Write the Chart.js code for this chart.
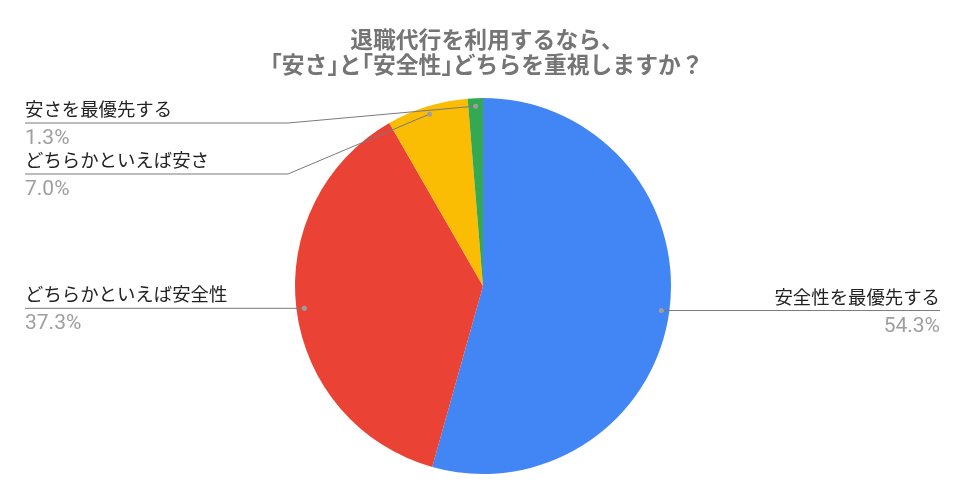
<!DOCTYPE html>
<html>
<head>
<meta charset="utf-8">
<script src="https://cdn.jsdelivr.net/npm/chart.js@4/dist/chart.umd.min.js"></script>
<style>
  body { margin: 0; background: #fff; }
  #wrap { width: 966px; height: 501px; position: relative; }
  #title {
    position: absolute; left: 4px; top: 26px; width: 966px;
    text-align: center; color: #757575;
    font: bold 22.8px/25px "Noto Sans CJK JP", "Noto Sans", sans-serif;
    pointer-events: none;
  }
  #title .l2 { font-feature-settings: "halt"; }
</style>
</head>
<body>
<div id="wrap">
  <canvas id="myChart"></canvas>
  <div id="title"><div class="l1"></div><div class="l2"></div></div>
</div>
<script>
const titleLines = ['退職代行を利用するなら、', '「安さ」と「安全性」どちらを重視しますか？'];
const labels = ['安全性を最優先する', 'どちらかといえば安全性', 'どちらかといえば安さ', '安さを最優先する'];
const values = [54.3, 37.3, 7.0, 1.3];
const colors = ['#4285F4', '#EA4335', '#FBBC04', '#34A853'];

const jpFont = '"Noto Sans CJK JP", "Noto Sans", sans-serif';

document.querySelector('#title .l1').textContent = titleLines[0];
document.querySelector('#title .l2').textContent = titleLines[1];

// where each label sits: side and the y of its underline (null = follow the dot)
const labelPlaces = [
    { side: 'right', lineY: null },
    { side: 'left', lineY: null },
    { side: 'left', lineY: 174 },
    { side: 'left', lineY: 123 }
];

const pieLabels = {
    id: 'pieLabels',
    afterDraw(chart) {
        const ctx = chart.ctx;
        ctx.save();
        const arcs = chart.getDatasetMeta(0).data;
        arcs.forEach((arc, i) => {
            const mid = (arc.startAngle + arc.endAngle) / 2;
            const r = arc.outerRadius - 8;
            const dx = arc.x + Math.cos(mid) * r;
            const dy = arc.y + Math.sin(mid) * r;
            const place = labelPlaces[i];
            const ly = place.lineY === null ? dy : place.lineY;
            const pct = values[i].toFixed(1) + '%';

            ctx.strokeStyle = '#7a7a7a';
            ctx.lineWidth = 1;
            ctx.beginPath();
            if (place.side === 'right') {
                ctx.moveTo(dx, ly);
                ctx.lineTo(940, ly);
            } else {
                ctx.moveTo(25, ly);
                ctx.lineTo(288, ly);
                ctx.lineTo(dx, dy);
            }
            ctx.stroke();

            ctx.fillStyle = '#9e9e9e';
            ctx.beginPath();
            ctx.arc(dx, dy, 2.5, 0, Math.PI * 2);
            ctx.fill();

            const tx = place.side === 'right' ? 940 : 25;
            ctx.textAlign = place.side === 'right' ? 'right' : 'left';
            ctx.textBaseline = 'alphabetic';
            ctx.fillStyle = '#222222';
            ctx.font = '18.4px ' + jpFont;
            ctx.fillText(labels[i], tx, ly - 7);
            ctx.fillStyle = '#9e9e9e';
            ctx.font = '21px Roboto, sans-serif';
            ctx.fillText(pct, tx, ly + 21);
        });
        ctx.restore();
    }
};

const ctx = document.getElementById('myChart').getContext('2d');
const chart = new Chart(ctx, {
    type: 'pie',
    data: { labels: labels, datasets: [{ data: values, backgroundColor: colors, borderWidth: 0 }] },
    options: {
        responsive: true,
        maintainAspectRatio: false,
        animation: false,
        layout: { padding: { top: 98, bottom: 27, left: 0, right: 0 } },
        plugins: { legend: { display: false }, tooltip: { enabled: false } }
    },
    plugins: [pieLabels]
});
</script>
</body>
</html>
